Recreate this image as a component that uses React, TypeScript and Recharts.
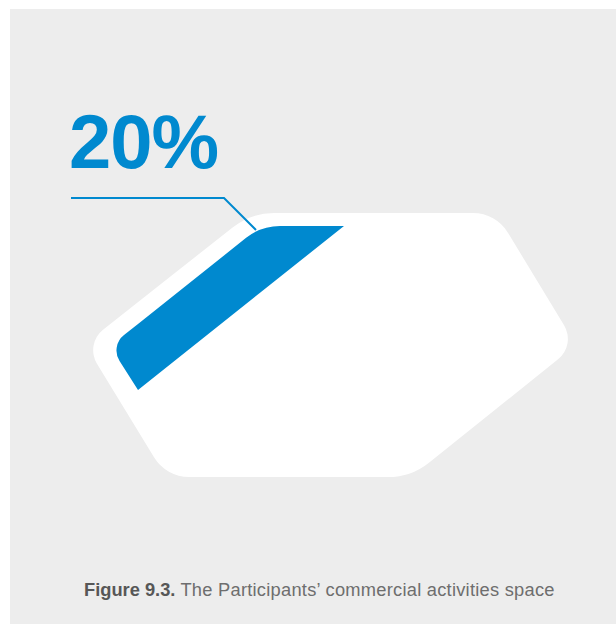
import { ComposedChart, Area, Line, XAxis, YAxis } from "recharts";

const BLUE = "#0089cf";

// whole commercial activities space, read per x as [top, bottom]
const spaceX = [85, 166, 251, 411, 496, 576];
const spaceTop = [344, 280, 213, 213, 213, 345];
const spaceBottom = [344, 477, 477, 477, 409, 345];

// the Participants' band along the upper-left side
const shareX = [110, 138, 261, 344];
const shareTop = [346, 324, 226, 226];
const shareBottom = [346, 390, 292, 226];

// leader line from the label to the band
const leaderX = [71, 224, 256];
const leaderY = [198, 198, 230];

const share = 20;
const captionBold = "Figure 9.3.";
const captionText = "The Participants’ commercial activities space";

const spaceData = spaceX.map((x, i) => ({ x, range: [spaceTop[i], spaceBottom[i]] }));
const shareData = shareX.map((x, i) => ({ x, range: [shareTop[i], shareBottom[i]] }));
const leaderData = leaderX.map((x, i) => ({ x, y: leaderY[i] }));

type Pt = [number, number];

// curve that closes the area into a polygon with rounded obtuse corners
const roundedCorners = (tangent: number) => (context: any) => {
  let pts: Pt[] = [];
  let area = false;

  const draw = (closed: boolean) => {
    const p: Pt[] = [];
    for (const q of pts) {
      const last = p[p.length - 1];
      if (!last || Math.hypot(q[0] - last[0], q[1] - last[1]) > 0.5) p.push(q);
    }
    if (
      closed &&
      p.length > 2 &&
      Math.hypot(p[0][0] - p[p.length - 1][0], p[0][1] - p[p.length - 1][1]) <= 0.5
    )
      p.pop();
    if (!p.length) return;
    if (!closed || p.length < 3) {
      p.forEach((q, i) => (i ? context.lineTo(q[0], q[1]) : context.moveTo(q[0], q[1])));
      return;
    }
    const n = p.length;
    context.moveTo((p[0][0] + p[n - 1][0]) / 2, (p[0][1] + p[n - 1][1]) / 2);
    for (let i = 0; i < n; i++) {
      const prev = p[(i + n - 1) % n];
      const cur = p[i];
      const next = p[(i + 1) % n];
      const ax = prev[0] - cur[0];
      const ay = prev[1] - cur[1];
      const bx = next[0] - cur[0];
      const by = next[1] - cur[1];
      const la = Math.hypot(ax, ay);
      const lb = Math.hypot(bx, by);
      const angle = Math.acos(Math.max(-1, Math.min(1, (ax * bx + ay * by) / (la * lb))));
      // straight joins and the acute cut corners stay sharp
      if (angle > Math.PI * 0.97 || angle < Math.PI / 2) {
        context.lineTo(cur[0], cur[1]);
      } else {
        const t = Math.min(tangent, la / 2, lb / 2);
        context.arcTo(cur[0], cur[1], next[0], next[1], t * Math.tan(angle / 2));
      }
    }
    context.closePath();
  };

  return {
    areaStart() {
      area = true;
      pts = [];
    },
    areaEnd() {
      draw(true);
      area = false;
    },
    lineStart() {
      if (!area) pts = [];
    },
    lineEnd() {
      if (!area) draw(false);
    },
    point(x: number, y: number) {
      pts.push([x, y]);
    },
  };
};

export default function App() {
  return (
    <div
      style={{
        position: "absolute",
        left: 0,
        top: 0,
        width: 616,
        height: 624,
        background: "#fff",
        overflow: "hidden",
      }}
    >
      <div
        style={{
          position: "absolute",
          left: 10,
          top: 9,
          right: 0,
          bottom: 0,
          background: "#ededed",
        }}
      />
      <div style={{ position: "absolute", left: 0, top: 0 }}>
        <ComposedChart
          width={616}
          height={624}
          margin={{ top: 0, right: 0, bottom: 0, left: 0 }}
        >
          <XAxis type="number" dataKey="x" domain={[0, 616]} hide />
          <YAxis type="number" domain={[0, 624]} reversed hide />
          <Area
            data={spaceData}
            dataKey="range"
            type={roundedCorners(23) as any}
            fill="#fff"
            fillOpacity={1}
            stroke="none"
            isAnimationActive={false}
          />
          <Line
            data={leaderData}
            dataKey="y"
            type="linear"
            stroke={BLUE}
            strokeWidth={2}
            dot={false}
            activeDot={false}
            isAnimationActive={false}
          />
          <Area
            data={shareData}
            dataKey="range"
            type={roundedCorners(19) as any}
            fill={BLUE}
            fillOpacity={1}
            stroke="none"
            isAnimationActive={false}
          />
        </ComposedChart>
      </div>
      <svg
        width={616}
        height={624}
        style={{ position: "absolute", left: 0, top: 0, pointerEvents: "none" }}
        fontFamily="'Liberation Sans', Arial, Helvetica, sans-serif"
      >
        <text x={69} y={168} fontSize={76} fontWeight="bold" fill={BLUE} letterSpacing={-1}>
          {share}%
        </text>
        <text x={84} y={596} fontSize={18.3}>
          <tspan fontWeight="bold" fill="#575757">
            {captionBold}
          </tspan>
          <tspan fill="#6e6e6e" letterSpacing={0.25}>
            {" " + captionText}
          </tspan>
        </text>
      </svg>
    </div>
  );
}
